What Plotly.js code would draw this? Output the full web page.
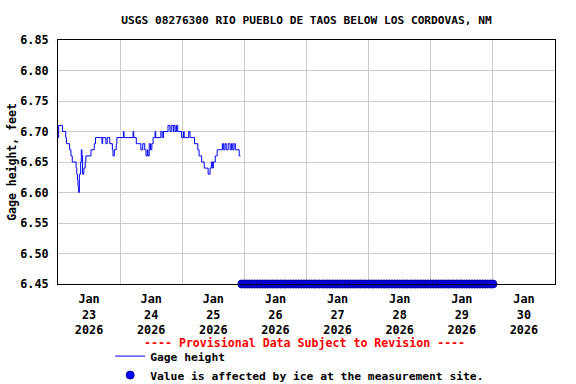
<!DOCTYPE html>
<html>
<head>
<meta charset="utf-8">
<script src="https://cdn.plot.ly/plotly-3.0.1.min.js"></script>
<style>html,body{margin:0;padding:0;background:#fff;}#chart{width:576px;height:384px;}</style>
</head>
<body>
<div id="chart"></div>
<script>
const chartTitle = "USGS 08276300 RIO PUEBLO DE TAOS BELOW LOS CORDOVAS, NM";
const yTitle = "Gage height, feet";
const provisionalText = "---- Provisional Data Subject to Revision ----";
const gageName = "Gage height";
const iceName = "Value is affected by ice at the measurement site.";

const gageTimes = [
 "2026-01-23 00:00","2026-01-23 00:15","2026-01-23 01:45","2026-01-23 03:00","2026-01-23 03:15",
 "2026-01-23 04:30","2026-01-23 05:00","2026-01-23 05:30","2026-01-23 07:00","2026-01-23 07:15",
 "2026-01-23 07:30","2026-01-23 07:45","2026-01-23 08:00","2026-01-23 08:15","2026-01-23 08:45",
 "2026-01-23 09:00","2026-01-23 09:15","2026-01-23 09:30","2026-01-23 10:00","2026-01-23 10:30",
 "2026-01-23 10:45","2026-01-23 12:45","2026-01-23 14:00","2026-01-23 14:30","2026-01-23 17:00",
 "2026-01-23 17:15","2026-01-23 18:30","2026-01-23 19:00","2026-01-23 20:00","2026-01-23 21:00",
 "2026-01-23 21:15","2026-01-23 21:45","2026-01-23 22:30","2026-01-23 22:45","2026-01-24 01:15",
 "2026-01-24 01:30","2026-01-24 05:00","2026-01-24 05:15","2026-01-24 06:15","2026-01-24 08:00",
 "2026-01-24 08:45","2026-01-24 09:30","2026-01-24 10:00","2026-01-24 10:30","2026-01-24 10:45",
 "2026-01-24 11:15","2026-01-24 11:45","2026-01-24 12:15","2026-01-24 12:45","2026-01-24 13:30",
 "2026-01-24 13:45","2026-01-24 15:45","2026-01-24 16:15","2026-01-24 16:45","2026-01-24 18:30",
 "2026-01-24 19:15","2026-01-24 19:45","2026-01-24 20:30","2026-01-24 20:45","2026-01-24 21:15",
 "2026-01-24 21:45","2026-01-24 22:15","2026-01-24 23:45","2026-01-25 00:30","2026-01-25 00:45",
 "2026-01-25 02:30","2026-01-25 03:00","2026-01-25 04:45","2026-01-25 06:00","2026-01-25 06:30",
 "2026-01-25 07:30","2026-01-25 08:30","2026-01-25 10:00","2026-01-25 10:45","2026-01-25 11:15",
 "2026-01-25 11:45","2026-01-25 12:00","2026-01-25 12:45","2026-01-25 13:30","2026-01-25 15:30",
 "2026-01-25 16:00","2026-01-25 16:30","2026-01-25 17:00","2026-01-25 17:45","2026-01-25 18:30",
 "2026-01-25 19:00","2026-01-25 19:30","2026-01-25 20:00","2026-01-25 20:30","2026-01-25 22:00",
 "2026-01-25 22:30"
];
const gageValues = [
 6.69,6.71,6.70,6.69,6.68,
 6.67,6.66,6.65,6.64,6.63,
 6.62,6.61,6.60,6.63,6.65,
 6.67,6.66,6.63,6.64,6.65,
 6.66,6.67,6.68,6.69,6.68,
 6.69,6.68,6.69,6.68,6.67,
 6.66,6.67,6.68,6.69,6.70,
 6.69,6.70,6.69,6.68,6.67,
 6.68,6.67,6.66,6.67,6.66,
 6.68,6.67,6.68,6.69,6.70,
 6.69,6.70,6.69,6.70,6.71,
 6.70,6.71,6.70,6.71,6.70,
 6.71,6.70,6.69,6.70,6.69,
 6.70,6.69,6.68,6.67,6.66,
 6.65,6.64,6.63,6.64,6.65,
 6.64,6.65,6.66,6.67,6.68,
 6.67,6.68,6.67,6.68,6.67,
 6.68,6.67,6.68,6.67,6.66,
 6.66
];

const iceStart = "2026-01-25T23:00:00";
const iceEnd = "2026-01-30T00:00:00";
const iceLevel = 6.45;

const dayLabels = ["Jan<br>23<br>2026","Jan<br>24<br>2026","Jan<br>25<br>2026","Jan<br>26<br>2026",
                   "Jan<br>27<br>2026","Jan<br>28<br>2026","Jan<br>29<br>2026","Jan<br>30<br>2026"];
const labelTimes = ["2026-01-23 12:00","2026-01-24 12:00","2026-01-25 12:00","2026-01-26 12:00",
                    "2026-01-27 12:00","2026-01-28 12:00","2026-01-29 12:00","2026-01-30 12:00"];
const gridTimes = ["2026-01-24","2026-01-25","2026-01-26","2026-01-27","2026-01-28","2026-01-29","2026-01-30"];
const xRange = ["2026-01-23 00:00","2026-01-31 00:00"];
const yRange = [6.45, 6.85];

// hourly ice flags between start and end
const iceTimes = [];
for (let t = Date.parse(iceStart + "Z"); t <= Date.parse(iceEnd + "Z"); t += 3600000) {
  iceTimes.push(new Date(t).toISOString().slice(0,19).replace("T"," "));
}
const iceValues = iceTimes.map(() => iceLevel);

const FONT = "DejaVu Sans Mono";
const F = (size, color) => ({family: FONT, size: size, color: color || "#000", weight: "bold"});

const traces = [
  {x: gageTimes, y: gageValues, type: "scatter", mode: "lines", name: gageName,
   line: {color: "#0000ff", width: 1, shape: "hv"}, cliponaxis: false},
  {x: iceTimes, y: iceValues, type: "scatter", mode: "markers", name: iceName,
   marker: {color: "#0000ff", size: 8, line: {color: "#0000a0", width: 1}}, cliponaxis: false}
];

const layout = {
  width: 576, height: 384,
  margin: {l: 58, r: 21, t: 40, b: 100, autoexpand: false},
  paper_bgcolor: "#ffffff", plot_bgcolor: "#ffffff",
  font: F(11.5),
  title: {text: chartTitle, x: 0.5, xref: "paper", xanchor: "center", y: 0.948, yanchor: "middle",
          font: F(11.2)},
  xaxis: {type: "date", range: xRange, tickmode: "array", tickvals: labelTimes, ticktext: dayLabels,
          showgrid: false, zeroline: false, showline: true, linecolor: "#000", linewidth: 1, mirror: true,
          ticks: "", tickfont: F(11.8), ticklabelstandoff: 4,
          minor: {tickmode: "array", tickvals: gridTimes, showgrid: true, gridcolor: "#cccccc", gridwidth: 1, ticks: ""}},
  yaxis: {range: yRange, tickmode: "linear", tick0: 6.45, dtick: 0.05, tickformat: ".2f",
          showgrid: true, gridcolor: "#cccccc", gridwidth: 1, zeroline: false,
          showline: true, linecolor: "#000", linewidth: 1, mirror: true, ticks: "",
          tickfont: F(11.8), ticklabelstandoff: 6,
          title: {text: yTitle, standoff: 1, font: F(11.5)}},
  showlegend: true,
  legend: {x: 0.105, xanchor: "left", y: -0.236, yanchor: "top", orientation: "v",
           bgcolor: "rgba(0,0,0,0)", font: F(11.3), tracegroupgap: 0},
  annotations: [{text: provisionalText, xref: "paper", yref: "paper", x: 0.495, y: -0.242,
                 xanchor: "center", yanchor: "middle", showarrow: false,
                 font: F(11.6, "#ff0000")}]
};

Plotly.newPlot("chart", traces, layout, {displayModeBar: false, staticPlot: true});
</script>
</body>
</html>
